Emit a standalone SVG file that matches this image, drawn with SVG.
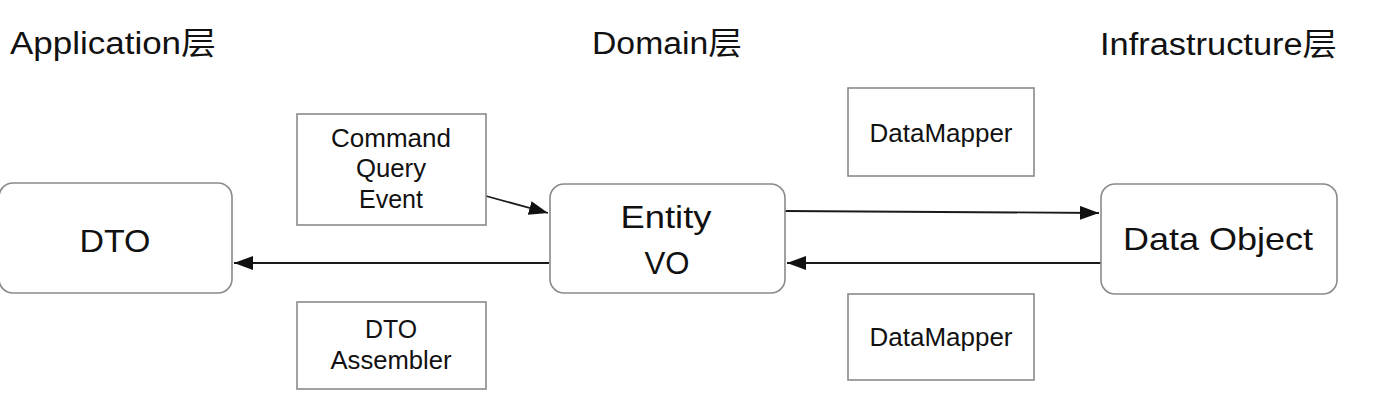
<svg xmlns="http://www.w3.org/2000/svg" width="1374" height="400" viewBox="0 0 1374 400">
<defs>
<style>
.bg{fill:#ffffff}
.rbox{fill:#ffffff;stroke:#8a8a8a;stroke-width:1.6}
.sbox{fill:#ffffff;stroke:#8a8a8a;stroke-width:1.6}
.t{font-family:"Liberation Sans","Noto Sans CJK SC",sans-serif;fill:#111111}
.hdr{font-size:31px}
.big{font-size:32px;text-anchor:middle}
.sm{font-size:25px;text-anchor:middle}
.conn{stroke:#1a1a1a;stroke-width:1.8;fill:none;marker-end:url(#arr)}
</style>
<marker id="arr" markerUnits="userSpaceOnUse" markerWidth="22" markerHeight="16" refX="19" refY="7" orient="auto">
<path d="M0,0 L19,7 L0,14 z" fill="#111111"/>
</marker>
</defs>
<rect class="bg" x="0" y="0" width="1374" height="400"/>
<g id="headers">
<text class="t hdr" x="10" y="54" textLength="206" lengthAdjust="spacingAndGlyphs">Application层</text>
<text class="t hdr" x="592" y="54" textLength="150" lengthAdjust="spacingAndGlyphs">Domain层</text>
<text class="t hdr" x="1100" y="55" textLength="237" lengthAdjust="spacingAndGlyphs">Infrastructure层</text>
</g>
<g id="connectors">
<line class="conn" x1="486" y1="196" x2="548" y2="213"/>
<line class="conn" x1="549" y1="263" x2="234" y2="263"/>
<line class="conn" x1="785" y1="211" x2="1099" y2="213"/>
<line class="conn" x1="1101" y1="263" x2="787" y2="263"/>
</g>
<g id="dto">
<rect class="rbox" x="-1" y="183" width="233" height="110" rx="14"/>
<text class="t big" x="115" y="252" textLength="71" lengthAdjust="spacingAndGlyphs">DTO</text>
</g>
<g id="entity">
<rect class="rbox" x="550" y="184" width="235" height="109" rx="14"/>
<text class="t big" x="666" y="228" textLength="91" lengthAdjust="spacingAndGlyphs">Entity</text>
<text class="t big" x="667" y="274" textLength="45" lengthAdjust="spacingAndGlyphs">VO</text>
</g>
<g id="dataobject">
<rect class="rbox" x="1101" y="184" width="236" height="110" rx="14"/>
<text class="t big" x="1218" y="250" textLength="190" lengthAdjust="spacingAndGlyphs">Data Object</text>
</g>
<g id="command">
<rect class="sbox" x="297" y="114" width="189" height="111"/>
<text class="t sm" x="391" y="147" textLength="120" lengthAdjust="spacingAndGlyphs">Command</text>
<text class="t sm" x="391" y="177" textLength="70" lengthAdjust="spacingAndGlyphs">Query</text>
<text class="t sm" x="391" y="208" textLength="64" lengthAdjust="spacingAndGlyphs">Event</text>
</g>
<g id="assembler">
<rect class="sbox" x="297" y="302" width="189" height="87"/>
<text class="t sm" x="391" y="338" textLength="52" lengthAdjust="spacingAndGlyphs">DTO</text>
<text class="t sm" x="391" y="369" textLength="121" lengthAdjust="spacingAndGlyphs">Assembler</text>
</g>
<g id="datamapper-top">
<rect class="sbox" x="848" y="88" width="186" height="88"/>
<text class="t sm" x="941" y="142" textLength="143" lengthAdjust="spacingAndGlyphs">DataMapper</text>
</g>
<g id="datamapper-bottom">
<rect class="sbox" x="848" y="294" width="186" height="86"/>
<text class="t sm" x="941" y="346" textLength="143" lengthAdjust="spacingAndGlyphs">DataMapper</text>
</g>
</svg>
